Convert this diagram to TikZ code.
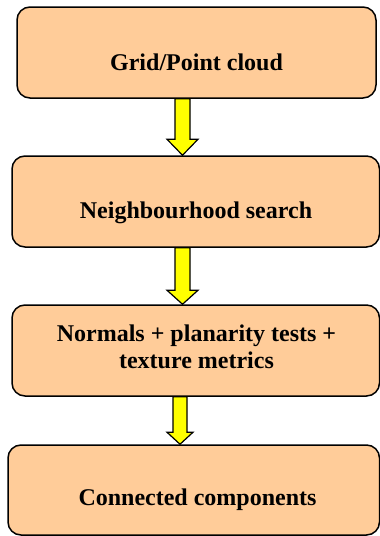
\documentclass[tikz,border=0pt]{standalone}
\usepackage{fontspec}
\setmainfont{Liberation Serif}
\usetikzlibrary{calc}
\definecolor{boxfill}{RGB}{255,204,153}
\definecolor{arrowfill}{RGB}{255,255,0}
\tikzset{
  x=1pt, y=1pt,
  stagebox/.style={draw=black, line width=1.5pt, fill=boxfill,
    rounded corners=13pt, inner sep=0pt},
  stagetext/.style={font=\fontsize{24}{27}\selectfont\bfseries,
    align=center, inner sep=0pt},
  yarrow/.style={draw=black, line width=1.2pt, fill=arrowfill, line join=miter}
}
% block arrow: #1 = start on the upper box, #2 = tip on the lower box,
% #3 = half shaft width, #4 = half head width, #5 = head length
\newcommand{\blockarrow}[5]{%
  \draw[yarrow] let \p1=(#1), \p2=(#2) in
    (\x1-#3,\y1) -- (\x1-#3,\y2+#5) -- (\x1-#4,\y2+#5) -- (\x1,\y2)
    -- (\x1+#4,\y2+#5) -- (\x1+#3,\y2+#5) -- (\x1+#3,\y1) -- cycle;}
\begin{document}
\begin{tikzpicture}
  \useasboundingbox (0,0) rectangle (380,-536);

  % process stages
  \node[stagebox, minimum width=359pt, minimum height=91pt] (b1) at (196.5,-52.5) {};
  \node[stagebox, minimum width=367.5pt, minimum height=91pt] (b2) at (195.75,-201.5) {};
  \node[stagebox, minimum width=367.5pt, minimum height=91pt] (b3) at (195.75,-350.5) {};
  \node[stagebox, minimum width=371.5pt, minimum height=90pt] (b4) at (193.75,-490) {};

  \node[stagetext] (t1) at (196.5,-62.5) {Grid/Point cloud};
  \node[stagetext] (t2) at (196,-212.5) {Neighbourhood search};
  \node[stagetext] (t3) at (196.5,-346.5) {Normals + planarity tests +\\texture metrics};
  \node[stagetext] (t4) at (197.5,-499.5) {Connected components};

  % arrow anchor points on the box edges
  \coordinate (a1s) at (b1.south -| 182.5,0);
  \coordinate (a1e) at (b2.north -| 182.5,0);
  \coordinate (a2s) at (b2.south -| 182.5,0);
  \coordinate (a2e) at (b3.north -| 182.5,0);
  \coordinate (a3s) at (b3.south -| 180,0);
  \coordinate (a3e) at (b4.north -| 180,0);

  \blockarrow{a1s}{a1e}{7.5}{15.5}{16}
  \blockarrow{a2s}{a2e}{7.5}{15.5}{14}
  \blockarrow{a3s}{a3e}{7}{13}{12}
\end{tikzpicture}
\end{document}
